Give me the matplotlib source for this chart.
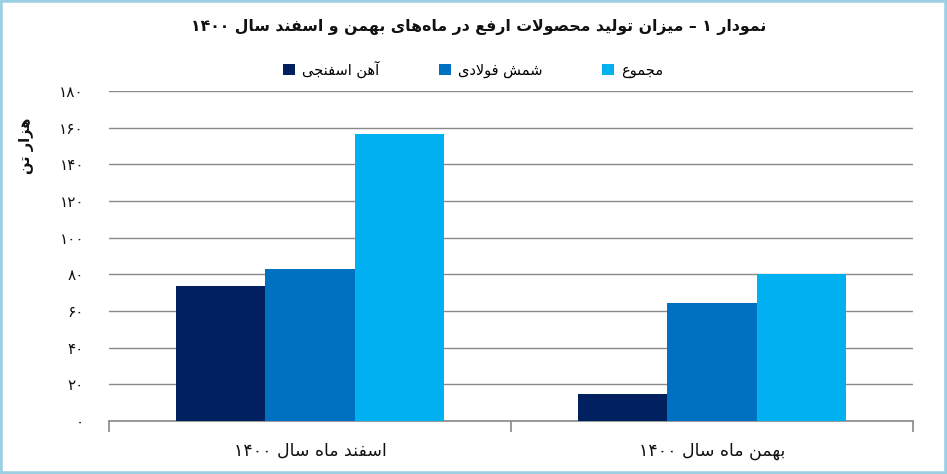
import re
import unicodedata
import matplotlib
matplotlib.use("Agg")
import matplotlib.pyplot as plt
from matplotlib.patches import Patch, Rectangle
from matplotlib.ticker import FixedLocator, FuncFormatter

# ---------------- data ----------------
categories = ['اسفند ماه سال ۱۴۰۰', 'بهمن ماه سال ۱۴۰۰']
series_names = ['آهن اسفنجی', 'شمش فولادی', 'مجموع']
sponge_iron = [73.8, 14.7]
steel_billet = [83.0, 64.4]
total = [156.8, 80.0]
y_ticks = [0, 20, 40, 60, 80, 100, 120, 140, 160, 180]
title = 'نمودار ۱ – میزان تولید محصولات ارفع در ماه\u200cهای بهمن و اسفند سال ۱۴۰۰'
y_label = 'هزار تن'

colors = ['#002060', '#0070C0', '#00B0F0']

# ---------------- simple Arabic/Persian shaping ----------------
forms, ligs = {}, {}
for cp in list(range(0xFB50, 0xFE00)) + list(range(0xFE70, 0xFF00)):
    d = unicodedata.decomposition(chr(cp))
    if not d.startswith('<'):
        continue
    parts = d.split()
    tag = parts[0][1:-1]
    if tag not in ('isolated', 'final', 'initial', 'medial'):
        continue
    cps = ''.join(chr(int(p, 16)) for p in parts[1:])
    if len(cps) == 1:
        forms.setdefault((cps, tag), chr(cp))
    elif len(cps) == 2:
        ligs.setdefault((cps, tag), chr(cp))


def _shape(s):
    toks = []
    i = 0
    while i < len(s):
        if s[i] == 'ل' and i + 1 < len(s) and s[i + 1] in 'اآأإ':
            toks.append(('LA', s[i + 1]))
            i += 2
        else:
            toks.append(s[i])
            i += 1

    def join_next(x):
        if x is None or isinstance(x, tuple):
            return False
        return (x, 'initial') in forms

    def join_prev(x):
        if x is None:
            return False
        if isinstance(x, tuple):
            return True
        return (x, 'final') in forms

    out = []
    for k, t in enumerate(toks):
        prev = toks[k - 1] if k > 0 else None
        nxt = toks[k + 1] if k + 1 < len(toks) else None
        a = join_next(prev) and join_prev(t)
        b = join_next(t) and join_prev(nxt)
        if isinstance(t, tuple):
            f = 'final' if a else 'isolated'
            out.append(ligs.get(('ل' + t[1], f), 'ل' + t[1]))
            continue
        if a and b:
            f = 'medial'
        elif a:
            f = 'final'
        elif b:
            f = 'initial'
        else:
            f = 'isolated'
        out.append(forms.get((t, f), forms.get((t, 'isolated'), t)))
    return ''.join(c for c in out if c != '\u200c')


def rtl(s):
    v = _shape(s)[::-1]
    return re.sub(r'[0-9\u06F0-\u06F9]+', lambda m: m.group(0)[::-1], v)


fa_digits = str.maketrans('0123456789', '۰۱۲۳۴۵۶۷۸۹')

plt.rcParams['font.family'] = ['DejaVu Sans']

# ---------------- figure ----------------
W, H = 947, 474
fig = plt.figure(figsize=(W / 100, H / 100), dpi=100)
fig.patch.set_facecolor('white')
fig.patches.append(Rectangle((0, 0), 1, 1, transform=fig.transFigure,
                             fill=False, edgecolor='#9CCFE2', linewidth=4,
                             zorder=10))

ax = fig.add_axes([109 / W, 53 / H, 804 / W, 330 / H])
ax.set_xlim(0, 2)
ax.set_ylim(0, 180)

bw = 0.2217
centers = [0.5, 1.5]
for j, (vals, name) in enumerate(zip([sponge_iron, steel_billet, total], series_names)):
    xs = [c + (j - 1) * bw for c in centers]
    ax.bar(xs, vals, width=bw, color=colors[j], zorder=3, linewidth=0)

for s in ['top', 'right', 'left']:
    ax.spines[s].set_visible(False)
ax.spines['bottom'].set_color('#888888')
ax.spines['bottom'].set_linewidth(1.2)

ax.yaxis.set_major_locator(FixedLocator(y_ticks))
ax.yaxis.set_major_formatter(FuncFormatter(lambda v, p: str(int(v)).translate(fa_digits)))
ax.tick_params(axis='y', length=0, pad=18, labelsize=11, labelcolor='#111111')
ax.grid(axis='y', color='#8a8a8a', linewidth=1.0, zorder=0)
ax.set_axisbelow(True)

ax.set_xticks([0, 1, 2])
ax.set_xticklabels(['', '', ''])
ax.tick_params(axis='x', which='major', length=8, color='#888888', width=1.2)
ax.set_xticks(centers, minor=True)
ax.set_xticklabels([rtl(c) for c in categories], minor=True)
ax.tick_params(axis='x', which='minor', length=0, pad=15, labelsize=12.5, labelcolor='#111111')

fig.text(27 / W, 1 - 146 / H, rtl(y_label), rotation=90, ha='center', va='center',
         fontsize=10.5, fontweight='bold', color='#111111')

fig.text(479 / W, 1 - 27 / H, rtl(title), ha='center', va='center',
         fontsize=11.3, fontweight='bold', color='#111111')

handles = [Patch(facecolor=c, edgecolor='none') for c in colors]
fig.legend(handles, [rtl(n) for n in series_names], loc='center',
           bbox_to_anchor=(473 / W, 1 - 69 / H), ncol=3, frameon=False,
           fontsize=10.5, handlelength=0.8, handleheight=0.8, handletextpad=0.5,
           columnspacing=4.1)

fig.savefig('out.png', dpi=100, facecolor='white')
